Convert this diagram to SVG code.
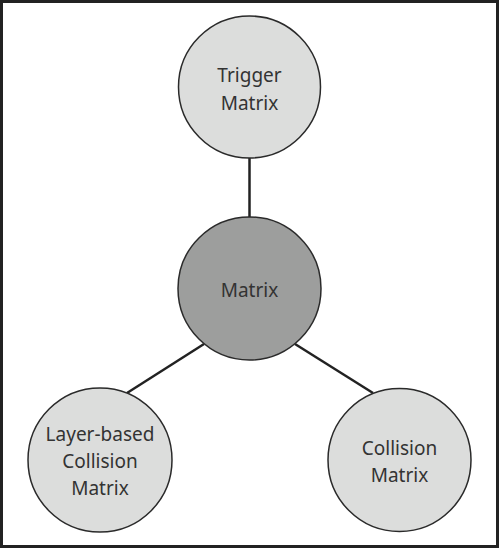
<svg xmlns="http://www.w3.org/2000/svg" width="500" height="549" viewBox="0 0 500 549">
<style>
.light{fill:#dcdddc;stroke:#2a2a2a;stroke-width:1.5}
.dark{fill:#9d9e9d;stroke:#2a2a2a;stroke-width:1.5}
.lbl{font-family:"Noto Sans","Liberation Sans",sans-serif;font-size:19px;fill:#333;text-anchor:middle}
.edge{stroke:#222;stroke-width:2.5;fill:none}
</style>
<rect x="1.5" y="1.5" width="496" height="545" fill="#fff" stroke="#222" stroke-width="3"/>
<g id="connectors">
<line class="edge" x1="249.5" y1="158" x2="249.5" y2="217"/>
<line class="edge" x1="127" y1="393" x2="204" y2="344"/>
<line class="edge" x1="373" y1="393" x2="295" y2="344"/>
</g>
<g id="trigger">
<circle class="light" cx="249.5" cy="87" r="71"/>
<text class="lbl" x="249.5" y="82">Trigger</text>
<text class="lbl" x="249.5" y="109.5">Matrix</text>
</g>
<g id="matrix">
<circle class="dark" cx="249.5" cy="288.5" r="71.5"/>
<text class="lbl" x="249.5" y="296.5">Matrix</text>
</g>
<g id="layer">
<circle class="light" cx="100" cy="460" r="72"/>
<text class="lbl" x="100" y="441">Layer-based</text>
<text class="lbl" x="100" y="468">Collision</text>
<text class="lbl" x="100" y="494.5">Matrix</text>
</g>
<g id="collision">
<circle class="light" cx="399.5" cy="460" r="71.5"/>
<text class="lbl" x="399.5" y="455">Collision</text>
<text class="lbl" x="399.5" y="482">Matrix</text>
</g>
</svg>
